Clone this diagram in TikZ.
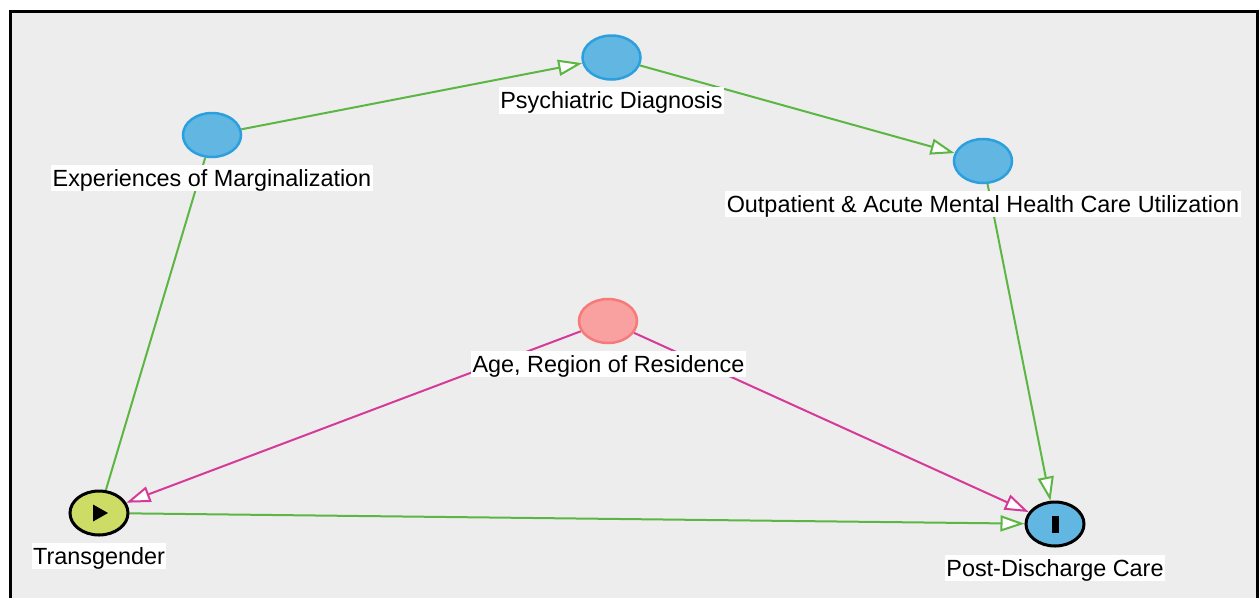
\documentclass[tikz,border=0pt]{standalone}
\usepackage{fontspec}
\setmainfont{Liberation Sans}
\usetikzlibrary{shapes.geometric,arrows.meta}

\definecolor{panelgray}{RGB}{237,237,237}
\definecolor{pathgreen}{RGB}{92,182,68}
\definecolor{biaspink}{RGB}{214,58,152}
\definecolor{nodeblue}{RGB}{98,182,226}
\definecolor{nodeblueline}{RGB}{44,160,222}
\definecolor{nodepink}{RGB}{249,160,160}
\definecolor{nodepinkline}{RGB}{246,122,122}
\definecolor{nodelime}{RGB}{204,220,100}

\pgfdeclarelayer{backdrop}
\pgfdeclarelayer{edgelayer}
\pgfsetlayers{backdrop,edgelayer,main}

\begin{document}
\begin{tikzpicture}[x=1pt,y=-1pt,
  var/.style={ellipse, minimum width=58pt, minimum height=44pt, inner sep=0pt, line width=2.5pt},
  ancestor/.style={var, fill=nodeblue, draw=nodeblueline},
  confounder/.style={var, fill=nodepink, draw=nodepinkline},
  exposure/.style={var, fill=nodelime, draw=black, line width=3pt},
  outcome/.style={var, fill=nodeblue, draw=black, line width=3pt},
  lbl/.style={fill=white, inner xsep=1.5pt, inner ysep=0pt, text height=21.2pt, text depth=5pt,
              font=\fontsize{23.4}{28}\selectfont},
  opentip/.style={-{Triangle[length=24pt,width=16pt,fill=white]}},
  causalline/.style={draw=pathgreen, line width=2pt},
  causal/.style={causalline, opentip},
  biasing/.style={draw=biaspink, line width=2pt, opentip},
]
\useasboundingbox (0,0) rectangle (1259,598);

% panel with its frame
\begin{pgfonlayer}{backdrop}
  \fill[white] (0,0) rectangle (1259,598);
  \fill[panelgray] (10,11) rectangle (1257.5,598);
  \draw[line width=3pt] (10,598) -- (10,11) -- (1257.5,11) -- (1257.5,598);
\end{pgfonlayer}

% variables
\node[ancestor]   (marg)  at (212,135)  {};
\node[ancestor]   (psych) at (611.5,57.5) {};
\node[ancestor]   (outp)  at (983,161)  {};
\node[confounder] (age)   at (608,321)  {};
\node[exposure]   (trans) at (99,513)   {};
\node[outcome]    (pdc)   at (1055,524) {};

% exposure and outcome markers
\fill[black] ([shift={(-6,-8.5)}]trans.center) -- ([shift={(-6,8.5)}]trans.center)
  -- ([shift={(9,0)}]trans.center) -- cycle;
\fill[black] ([shift={(-3.5,-8.5)}]pdc.center) rectangle ([shift={(3.5,8.5)}]pdc.center);

% labels
\node[lbl] (margL)  at (212,178)   {Experiences of Marginalization};
\node[lbl] (psychL) at (611.5,100.5) {Psychiatric Diagnosis};
\node[lbl] (outpL)  at (983,204)   {Outpatient \& Acute Mental Health Care Utilization};
\node[lbl] (ageL)   at (608.5,364) {Age, Region of Residence};
\node[lbl] (transL) at (99,556)    {Transgender};
\node[lbl] (pdcL)   at (1055,568)  {Post-Discharge Care};

% edges
\begin{pgfonlayer}{edgelayer}
  \draw[causal] (marg) -- (psych);
  \draw[causal] (psych) -- (outp);
  \draw[causal] (outp) -- (pdc);
  \draw[causalline] (trans) -- (marg);
  \draw[causal] (trans) -- (pdc);
  \draw[biasing] (age) -- (trans);
  \draw[biasing] (age) -- (pdc);
\end{pgfonlayer}
\end{tikzpicture}
\end{document}
